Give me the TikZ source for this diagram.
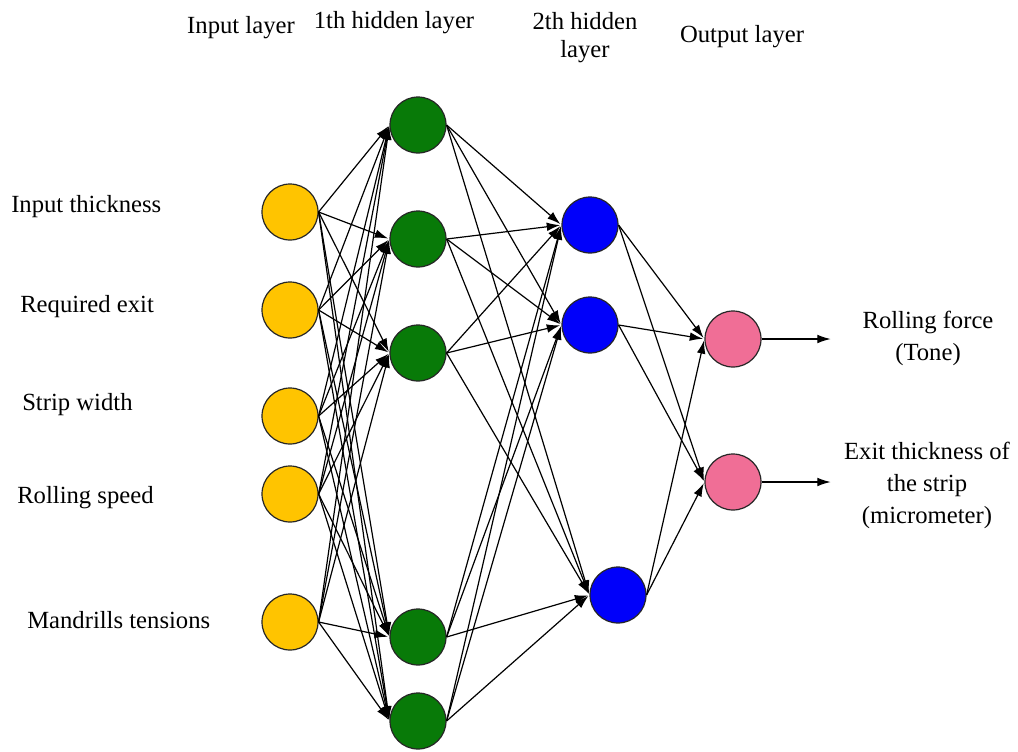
\documentclass[tikz,border=0pt]{standalone}
\usepackage{fontspec}
\setmainfont{Liberation Serif}
\newfontfamily\tnr{Liberation Serif}
\usetikzlibrary{arrows.meta}
\definecolor{cyel}{RGB}{255,196,0}
\definecolor{cgrn}{RGB}{8,122,8}
\definecolor{cblu}{RGB}{0,0,250}
\definecolor{cpnk}{RGB}{240,110,150}
\tikzset{
  neuron/.style={circle,draw=black!85,line width=0.9pt,minimum size=42pt,inner sep=0pt},
  inn/.style={neuron,fill=cyel},
  hida/.style={neuron,fill=cgrn},
  hidb/.style={neuron,fill=cblu},
  outn/.style={neuron,fill=cpnk},
  conn/.style={-{Latex[length=10pt,width=6.5pt]},line width=0.9pt,shorten >=1pt},
  lbl/.style={font=\tnr\fontsize{18.5}{22}\selectfont,inner sep=0pt},
}
\begin{document}
\begin{tikzpicture}[x=0.75pt,y=-0.75pt]
\useasboundingbox (0,0) rectangle (1018,751);
% nodes
\node[inn] (I1) at (290,212) {};
\node[inn] (I2) at (290,310) {};
\node[inn] (I3) at (290,416) {};
\node[inn] (I4) at (290,494) {};
\node[inn] (I5) at (290,622) {};
\node[hida] (H1) at (418,125) {};
\node[hida] (H2) at (418,239) {};
\node[hida] (H3) at (418,353) {};
\node[hida] (H4) at (418,637) {};
\node[hida] (H5) at (418,721) {};
\node[hidb] (B1) at (590,225) {};
\node[hidb] (B2) at (590,325) {};
\node[hidb] (B3) at (618,595) {};
\node[outn] (O1) at (733,339) {};
\node[outn] (O2) at (733,482) {};
% connections
\foreach \i in {1,...,5}{
  \foreach \h in {1,...,5}{
    \draw[conn] (I\i.east) -- (H\h.west);
  }
}
\foreach \h in {1,...,5}{
  \foreach \b in {1,2,3}{
    \draw[conn] (H\h.east) -- (B\b.west);
  }
}
\foreach \b in {1,2,3}{
  \foreach \o in {1,2}{
    \draw[conn] (B\b.east) -- (O\o.west);
  }
}
\coordinate (E1) at (832,339);
\coordinate (E2) at (832,482);
\draw[conn] (O1.east) -- (E1);
\draw[conn] (O2.east) -- (E2);
% top labels
\node[lbl] (t1) at (241,28) {Input layer};
\node[lbl] (t2) at (394,23) {1th hidden layer};
\node[lbl,align=center] (t3) at (585,38) {2th hidden\\[-1pt]layer};
\node[lbl] (t4) at (742,37) {Output layer};
% left labels
\node[lbl,anchor=west] (l1) at (11,207) {Input thickness};
\node[lbl,anchor=west] (l2) at (20,307) {Required exit};
\node[lbl,anchor=west] (l3) at (22,405) {Strip width};
\node[lbl,anchor=west] (l4) at (17,498) {Rolling speed};
\node[lbl,anchor=west] (l5) at (27,620) {Mandrills tensions};
% right labels
\node[lbl,align=center] (r1) at (928,338) {Rolling force\\[2pt](Tone)};
\node[lbl,align=center] (r2) at (927,485) {Exit thickness of\\[2pt]the strip\\[2pt](micrometer)};
\end{tikzpicture}
\end{document}
